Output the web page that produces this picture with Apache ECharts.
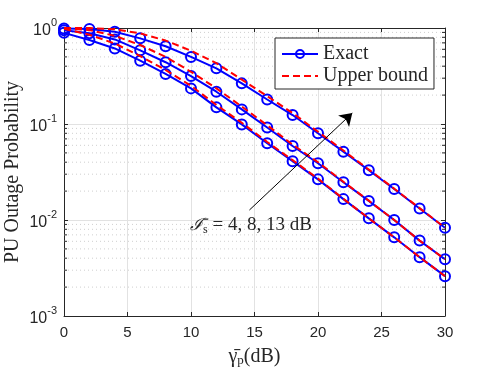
<!DOCTYPE html>
<html>
<head>
<meta charset="utf-8">
<script src="https://cdn.jsdelivr.net/npm/echarts@6/dist/echarts.min.js"></script>
<style>
  html, body { margin: 0; padding: 0; background: #fff; }
  #main { width: 491px; height: 368px; }
</style>
</head>
<body>
<div id="main"></div>
<script>
// x axis: average SNR in dB
const snr = [0, 2, 4, 6, 8, 10, 12, 14, 16, 18, 20, 22, 24, 26, 28, 30];

// exact outage, I_s = 13, 8, 4 dB
const exact13 = [0.99, 0.975, 0.915, 0.78, 0.645, 0.50, 0.38, 0.265, 0.18, 0.124, 0.080, 0.0515, 0.033, 0.021, 0.0132, 0.0083];
const exact8  = [0.95, 0.88, 0.76, 0.585, 0.44, 0.316, 0.217, 0.142, 0.092, 0.059, 0.039, 0.0247, 0.0158, 0.0100, 0.0061, 0.0039];
const exact4  = [0.89, 0.75, 0.612, 0.457, 0.332, 0.235, 0.149, 0.099, 0.063, 0.041, 0.0265, 0.0165, 0.0104, 0.0066, 0.0041, 0.0026];

// upper bounds
const bound13 = [1.0, 1.0, 0.97, 0.88, 0.74, 0.58, 0.43, 0.29, 0.195, 0.13, 0.083, 0.053, 0.0335, 0.0212, 0.0133, 0.0083];
const bound8  = [1.0, 0.95, 0.83, 0.665, 0.50, 0.35, 0.235, 0.152, 0.097, 0.061, 0.040, 0.025, 0.0159, 0.0100, 0.0061, 0.0039];
const bound4  = [0.98, 0.85, 0.69, 0.51, 0.365, 0.25, 0.158, 0.103, 0.065, 0.042, 0.027, 0.0166, 0.0104, 0.0066, 0.0041, 0.0026];

// minor grid values for the log axis
const minorVals = [];
[0.001, 0.01, 0.1].forEach(function (d) {
    for (let m = 2; m <= 9; m++) minorVals.push(+(m * d).toPrecision(3));
});

// arrow for the annotation (data coords)
const arrowFrom = [14.6, 0.0127];
const arrowTo = [22.7, 0.13];

const axisColor = '#262626';
const gridColor = '#e2e2e2';
const blue = '#0000ff';
const red = '#ff0000';

const pairs = (ys) => snr.map((x, i) => [x, ys[i]]);

function exactSeries(ys) {
    return {
        name: 'Exact',
        type: 'line',
        data: pairs(ys),
        symbol: 'circle',
        symbolSize: 10,
        lineStyle: { color: blue, width: 2 },
        itemStyle: { color: 'transparent', borderColor: blue, borderWidth: 2 },
        z: 3
    };
}
function boundSeries(ys) {
    return {
        name: 'Upper bound',
        type: 'line',
        data: pairs(ys),
        showSymbol: false,
        symbol: 'none',
        lineStyle: { color: red, width: 2, type: [7, 4] },
        itemStyle: { color: red },
        z: 4
    };
}

const chart = echarts.init(document.getElementById('main'));

const option = {
    animation: false,
    backgroundColor: '#fff',
    grid: { left: 64, right: 46, top: 28, bottom: 52, show: false, outerBoundsMode: 'none', containLabel: false },
    legend: {
        data: ['Exact', { name: 'Upper bound', itemStyle: { opacity: 0 } }],
        orient: 'vertical',
        left: 275,
        top: 38,
        padding: [6, 6, 3, 6],
        itemGap: 2,
        itemWidth: 36,
        itemHeight: 10,
        backgroundColor: '#fff',
        borderColor: axisColor,
        borderWidth: 1,
        textStyle: { fontFamily: 'Liberation Serif', fontSize: 20, color: axisColor, lineHeight: 20 }
    },
    xAxis: [{
        type: 'value',
        min: 0, max: 30, interval: 5,
        name: '{g|γ\u0304}{s|p}{t|(dB)}',
        nameLocation: 'middle',
        nameGap: 30,
        nameMoveOverlap: false,
        nameTextStyle: {
            rich: {
                g: { fontFamily: 'Liberation Serif', fontSize: 20, color: axisColor },
                s: { fontFamily: 'Liberation Serif', fontSize: 13, color: axisColor, padding: [8, 0, 0, 0] },
                t: { fontFamily: 'Liberation Serif', fontSize: 20, color: axisColor }
            }
        },
        axisLine: { show: true, lineStyle: { color: axisColor, width: 1 } },
        axisTick: { show: true, inside: true, length: 4, lineStyle: { color: axisColor } },
        axisLabel: { fontFamily: 'Liberation Sans', fontSize: 15, color: axisColor, margin: 9 },
        splitLine: { show: true, lineStyle: { color: gridColor, width: 1 } }
    }, {
        type: 'value',
        position: 'top',
        min: 0, max: 30, interval: 5,
        axisLine: { show: true, onZero: false, lineStyle: { color: axisColor, width: 1 } },
        axisTick: { show: true, inside: true, length: 4, lineStyle: { color: axisColor } },
        axisLabel: { show: false },
        splitLine: { show: false }
    }],
    yAxis: [{
        type: 'log',
        logBase: 10,
        min: 0.001, max: 1,
        name: 'PU Outage Probability',
        nameLocation: 'middle',
        nameGap: 41,
        nameMoveOverlap: false,
        nameTextStyle: { fontFamily: 'Liberation Serif', fontSize: 20, color: axisColor },
        axisLine: { show: true, lineStyle: { color: axisColor, width: 1 } },
        axisTick: { show: true, inside: true, length: 4, lineStyle: { color: axisColor } },
        axisLabel: {
            margin: 7,
            formatter: function (v) {
                const e = Math.round(Math.log10(v));
                return '{b|10}{e|' + e + '}';
            },
            rich: {
                b: { fontFamily: 'Liberation Sans', fontSize: 16, color: axisColor, lineHeight: 22, verticalAlign: 'bottom' },
                e: { fontFamily: 'Liberation Sans', fontSize: 11, color: axisColor, lineHeight: 22, verticalAlign: 'top' }
            }
        },
        splitLine: { show: true, lineStyle: { color: gridColor, width: 1 } }
    }, {
        type: 'log',
        logBase: 10,
        position: 'right',
        min: 0.001, max: 1,
        axisLine: { show: true, onZero: false, lineStyle: { color: axisColor, width: 1 } },
        axisTick: { show: true, inside: true, length: 4, lineStyle: { color: axisColor } },
        axisLabel: { show: false },
        splitLine: { show: false }
    }],
    graphic: [{
        type: 'text',
        left: 190,
        top: 216,
        z: 10,
        style: {
            text: '{i|ℐ\u0304}{s|s}{t| = 4, 8, 13 dB}',
            rich: {
                i: { fontFamily: 'DejaVu Serif', fontStyle: 'italic', fontSize: 17, fill: axisColor },
                s: { fontFamily: 'Liberation Serif', fontSize: 12, fill: axisColor, padding: [8, 0, 0, 0] },
                t: { fontFamily: 'Liberation Serif', fontSize: 19, fill: axisColor }
            }
        }
    }],
    series: [
        {
            // minor grid lines and minor ticks of the log axis
            type: 'custom',
            silent: true,
            z: 1,
            data: minorVals.map(v => [0, v]),
            renderItem: function (params, api) {
                const v = api.value(1);
                const p0 = api.coord([0, v]);
                const p1 = api.coord([30, v]);
                return {
                    type: 'group',
                    children: [{
                        type: 'line',
                        shape: { x1: p0[0], y1: p0[1], x2: p1[0], y2: p1[1] },
                        style: { stroke: '#cfcfcf', lineWidth: 1, lineDash: [1, 3] }
                    }, {
                        type: 'line',
                        shape: { x1: p0[0], y1: p0[1], x2: p0[0] + 3, y2: p0[1] },
                        style: { stroke: axisColor, lineWidth: 1 }
                    }, {
                        type: 'line',
                        shape: { x1: p1[0], y1: p1[1], x2: p1[0] - 3, y2: p1[1] },
                        style: { stroke: axisColor, lineWidth: 1 }
                    }]
                };
            }
        },
        exactSeries(exact13),
        exactSeries(exact8),
        exactSeries(exact4),
        boundSeries(bound13),
        boundSeries(bound8),
        boundSeries(bound4),
        {
            // annotation arrow
            type: 'line',
            data: [],
            silent: true,
            markLine: {
                silent: true,
                symbol: ['none', 'arrow'],
                symbolSize: 12,
                label: { show: false },
                lineStyle: { color: '#000', width: 1, type: 'solid' },
                data: [[{ coord: arrowFrom }, { coord: arrowTo }]]
            }
        }
    ]
};

chart.setOption(option);
</script>
</body>
</html>
